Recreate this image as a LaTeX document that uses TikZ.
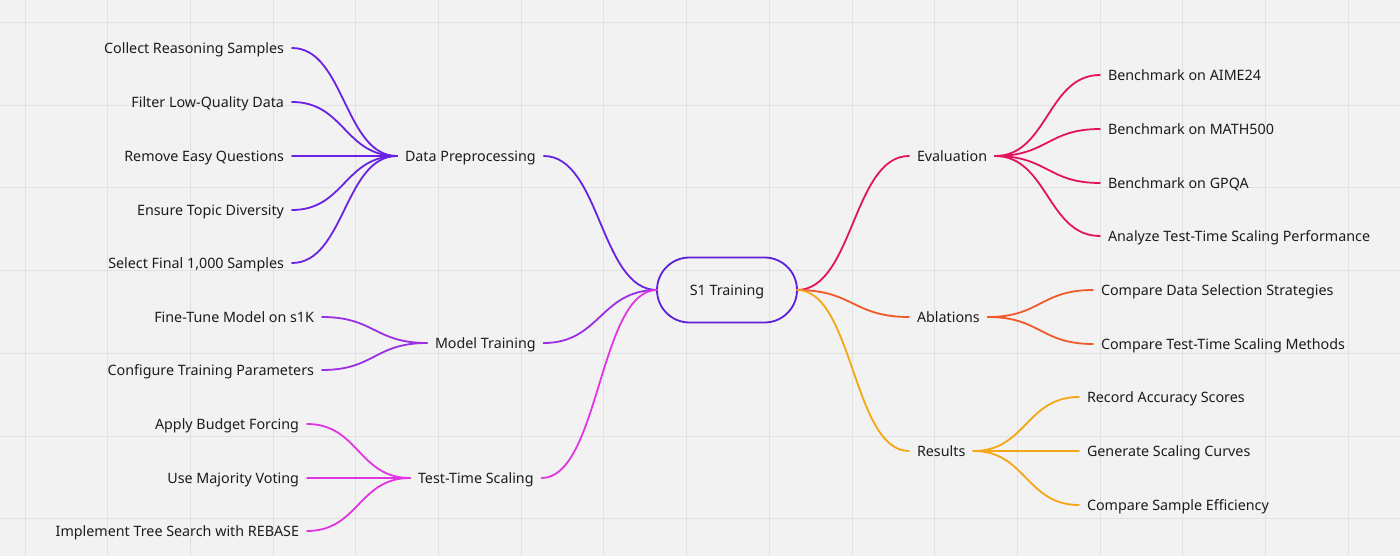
\documentclass[tikz,border=0pt]{standalone}
\usepackage{fontspec}
\setmainfont{Noto Sans}
\usepackage{tikz}
\usetikzlibrary{calc,positioning}
\definecolor{paper}{HTML}{F2F2F2}
\definecolor{gridc}{HTML}{E1E1E1}
\definecolor{ink}{HTML}{1C1C1C}
\definecolor{rootc}{HTML}{5B21D9}
\definecolor{prepc}{HTML}{6A22E2}
\definecolor{trainc}{HTML}{9B2FE3}
\definecolor{scalec}{HTML}{E135E3}
\definecolor{evalc}{HTML}{E2145F}
\definecolor{ablc}{HTML}{F05A28}
\definecolor{resc}{HTML}{F5A614}
\tikzstyle{topic} = [text height=11pt, text depth=0pt, inner xsep=8pt, inner ysep=2pt, outer sep=0pt, text=ink, font=\fontsize{14.3}{17}\selectfont]
\tikzstyle{leafL} = [topic, anchor=east]
\tikzstyle{leafR} = [topic, anchor=west]
\tikzstyle{root}  = [topic, rectangle, rounded corners=32.5pt, minimum width=140pt, minimum height=65pt, draw=rootc, line width=1.8pt]
\tikzstyle{link}  = [line width=1.8pt, line cap=round, to path={let \p1=(\tikztostart), \p2=(\tikztotarget) in .. controls ({(\x1+\x2)/2},\y1) and ({(\x1+\x2)/2},\y2) .. (\tikztotarget)}]

\begin{document}
\begin{tikzpicture}[x=1pt, y=-1pt]
        % canvas and grid
        \fill [paper] (0,0) rectangle (1400,556);
        \useasboundingbox (0,0) rectangle (1400,556);
        \foreach \gx in {0,...,16} \draw [gridc, line width=0.9pt] ({25+82.7*\gx},0) -- ({25+82.7*\gx},556);
        \foreach \gy in {0,...,6} \draw [gridc, line width=0.9pt] (0,{22.5+82.7*\gy}) -- (1400,{22.5+82.7*\gy});

        \node (s1) [root] at (727,290) {S1 Training};

        % left side
        \node (prep) [leafR] at (397,156) {Data Preprocessing};
        \node (collect) [leafL] at (292,48) {Collect Reasoning Samples};
        \node (filter) [leafL] at (292,102) {Filter Low-Quality Data};
        \node (easy) [leafL] at (292,156) {Remove Easy Questions};
        \node (diverse) [leafL] at (292,210) {Ensure Topic Diversity};
        \node (select) [leafL] at (292,263) {Select Final 1,000 Samples};

        \node (train) [leafR] at (427,343) {Model Training};
        \node (finetune) [leafL] at (322,317) {Fine-Tune Model on s1K};
        \node (config) [leafL] at (322,370) {Configure Training Parameters};

        \node (scale) [leafR] at (410,478) {Test-Time Scaling};
        \node (budget) [leafL] at (307,424) {Apply Budget Forcing};
        \node (vote) [leafL] at (307,478) {Use Majority Voting};
        \node (tree) [leafL] at (307,531) {Implement Tree Search with REBASE};

        % right side
        \node (eval) [leafR] at (909,156) {Evaluation};
        \node (aime) [leafR] at (1100,75) {Benchmark on AIME24};
        \node (math) [leafR] at (1100,129) {Benchmark on MATH500};
        \node (gpqa) [leafR] at (1100,183) {Benchmark on GPQA};
        \node (analyze) [leafR] at (1100,236) {Analyze Test-Time Scaling Performance};

        \node (abl) [leafR] at (909,317) {Ablations};
        \node (dsel) [leafR] at (1093,290) {Compare Data Selection Strategies};
        \node (tsel) [leafR] at (1093,344) {Compare Test-Time Scaling Methods};

        \node (res) [leafR] at (909,451) {Results};
        \node (acc) [leafR] at (1079,397) {Record Accuracy Scores};
        \node (curves) [leafR] at (1079,451) {Generate Scaling Curves};
        \node (eff) [leafR] at (1079,505) {Compare Sample Efficiency};

        \draw [link, prepc] (prep.east) to (s1.west);
        \draw [link, prepc] (prep.west) to (collect.east);
        \draw [link, prepc] (prep.west) to (filter.east);
        \draw [link, prepc] (prep.west) to (easy.east);
        \draw [link, prepc] (prep.west) to (diverse.east);
        \draw [link, prepc] (prep.west) to (select.east);

        \draw [link, trainc] (train.east) to (s1.west);
        \draw [link, trainc] (train.west) to (finetune.east);
        \draw [link, trainc] (train.west) to (config.east);

        \draw [link, scalec] (scale.east) to (s1.west);
        \draw [link, scalec] (scale.west) to (budget.east);
        \draw [link, scalec] (scale.west) to (vote.east);
        \draw [link, scalec] (scale.west) to (tree.east);

        \draw [link, evalc] (s1.east) to (eval.west);
        \draw [link, evalc] (eval.east) to (aime.west);
        \draw [link, evalc] (eval.east) to (math.west);
        \draw [link, evalc] (eval.east) to (gpqa.west);
        \draw [link, evalc] (eval.east) to (analyze.west);

        \draw [link, ablc] (s1.east) to (abl.west);
        \draw [link, ablc] (abl.east) to (dsel.west);
        \draw [link, ablc] (abl.east) to (tsel.west);

        \draw [link, resc] (s1.east) to (res.west);
        \draw [link, resc] (res.east) to (acc.west);
        \draw [link, resc] (res.east) to (curves.west);
        \draw [link, resc] (res.east) to (eff.west);
    \end{tikzpicture}
\end{document}
